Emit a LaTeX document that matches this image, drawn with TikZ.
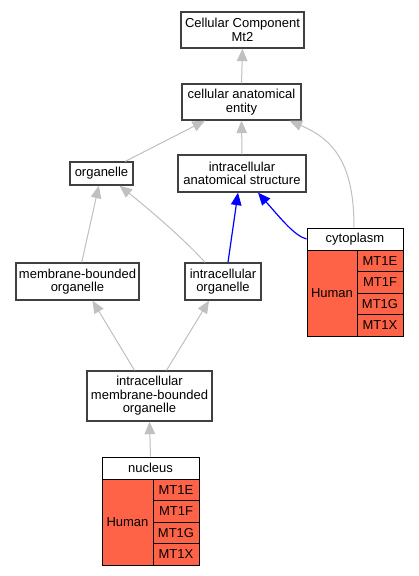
\documentclass[tikz,border=0pt]{standalone}
\usepackage{fontspec}
\setmainfont{Liberation Sans}
\usetikzlibrary{arrows.meta}
\definecolor{edgegray}{HTML}{C0C0C0}
\definecolor{boxline}{HTML}{404040}
\definecolor{tomato}{HTML}{FF6347}
\begin{document}
\begin{tikzpicture}[x=1pt,y=-1pt,
  txt/.style={font=\fontsize{13}{13.4}\selectfont, align=center, inner sep=0pt},
  box/.style={txt, draw=boxline, line width=1.3pt, fill=white},
  hdr/.style={txt, draw=black, line width=1pt, fill=white},
  rcell/.style={txt, draw=black, line width=1pt, fill=tomato},
  ge/.style={draw=edgegray, line width=1pt, -{Triangle[length=12.5pt,width=10.5pt]}},
  be/.style={draw=blue, line width=1.2pt, -{Triangle[length=12.5pt,width=10.5pt]}}
]
\useasboundingbox (0,0) rectangle (419,576);
\fill[white] (0,0) rectangle (419,576);

% boxes
\node[box, minimum width=123pt, minimum height=36pt] (cc) at (242.5,30) {Cellular Component\\Mt2};
\node[box, minimum width=119pt, minimum height=36pt] (ent) at (241.5,102) {cellular anatomical\\entity};
\node[box, minimum width=63pt, minimum height=23pt] (org) at (101.5,173.5) {organelle};
\node[box, minimum width=128pt, minimum height=37pt] (ias) at (242,173.5) {intracellular\\anatomical structure};
\node[box, minimum width=123pt, minimum height=37pt] (mbo) at (77.5,281.5) {membrane-bounded\\organelle};
\node[box, minimum width=76pt, minimum height=37pt] (io) at (223,281.5) {intracellular\\organelle};
\node[box, minimum width=125pt, minimum height=50pt] (imbo) at (149.5,396) {intracellular\\membrane-bounded\\organelle};

% cytoplasm table
\node[hdr, minimum width=96pt, minimum height=22pt] (cyto) at (355,239) {cytoplasm};
\node[rcell, minimum width=50pt, minimum height=86pt] (cytoH) at (332,293) {Human};
\node[rcell, minimum width=46pt, minimum height=21.5pt] (cytoA) at (380,260.75) {MT1E};
\node[rcell, minimum width=46pt, minimum height=21.5pt] (cytoB) at (380,282.25) {MT1F};
\node[rcell, minimum width=46pt, minimum height=21.5pt] (cytoC) at (380,303.75) {MT1G};
\node[rcell, minimum width=46pt, minimum height=21.5pt] (cytoD) at (380,325.25) {MT1X};

% nucleus table
\node[hdr, minimum width=97pt, minimum height=22pt] (nuc) at (150.5,468) {nucleus};
\node[rcell, minimum width=51pt, minimum height=86pt] (nucH) at (127.5,522) {Human};
\node[rcell, minimum width=46pt, minimum height=21.5pt] (nucA) at (176,489.75) {MT1E};
\node[rcell, minimum width=46pt, minimum height=21.5pt] (nucB) at (176,511.25) {MT1F};
\node[rcell, minimum width=46pt, minimum height=21.5pt] (nucC) at (176,532.75) {MT1G};
\node[rcell, minimum width=46pt, minimum height=21.5pt] (nucD) at (176,554.25) {MT1X};

% edges
\draw[ge] (ent.north) -- (cc.south);
\draw[ge] (org) -- (ent);
\draw[ge] (ias.north) -- (ent.south);
\draw[ge] ([xshift=-1pt]cyto.north) .. controls (354,165) and (335,140) .. ([xshift=48pt]ent.south);
\draw[ge] (mbo) -- (org);
\draw[ge] ([xshift=-18pt]io.north) .. controls (185,240) and (150,210) .. ([xshift=18pt]org.south);
\draw[be] ([xshift=5pt]io.north) -- ([xshift=-4pt]ias.south);
\draw[be] (cyto.west) .. controls (295,236) and (282,220) .. ([xshift=16pt]ias.south);
\draw[ge] ([xshift=-15pt]imbo.north) -- ([xshift=15pt]mbo.south);
\draw[ge] ([xshift=17pt]imbo.north) -- ([xshift=-14pt]io.south);
\draw[ge] (nuc.north) -- (imbo.south);
\end{tikzpicture}
\end{document}
